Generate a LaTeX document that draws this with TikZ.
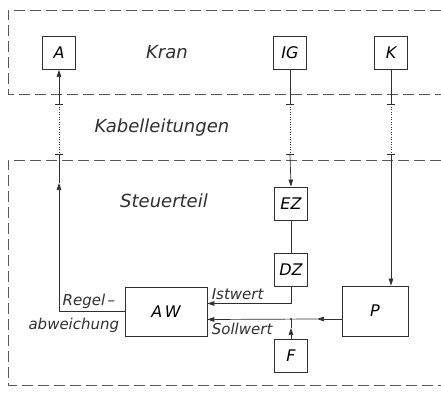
\documentclass[tikz,border=0pt]{standalone}
\usepackage{fontspec}
\setmainfont{DejaVu Sans}
\usetikzlibrary{arrows.meta, positioning, calc}
\definecolor{cink}{HTML}{303030}
\definecolor{cframe}{HTML}{585858}
\tikzset{
  every picture/.style={line width=0.7pt, draw=cink},
  blk/.style={draw=cink, line width=0.9pt, minimum width=#1, minimum height=33pt, inner sep=0pt, font=\fontsize{16}{18}\selectfont\itshape},
  blk/.default=33pt,
  arrow/.style={-{Triangle[length=7pt, width=4.6pt]}, draw=cink},
  cable/.style={draw=cink, dash pattern=on 1.2pt off 1.3pt},
  frame/.style={draw=cframe, line width=0.8pt, dash pattern=on 11pt off 5pt},
  area/.style={font=\fontsize{18}{20}\selectfont\itshape, text=cink},
  sig/.style={font=\fontsize{15}{17}\selectfont\itshape, text=cink, inner sep=1pt},
}

\begin{document}
\begin{tikzpicture}[x=1pt, y=-1pt]
  \useasboundingbox (0,0) rectangle (441,396);
  % Kran und Steuerteil
  \draw[frame] (441,10) -| (8,94) -- (441,94);
  \draw[frame] (441,160) -| (8,385) -- (441,385);
  \node[area] (kran) at (167,52) {Kran};
  \node[area] (kabel) at (162,128) {Kabelleitungen};
  \node[area] (steuer) at (164,201) {Steuerteil};

  \node[blk] (A) at (59,53) {A};
  \node[blk] (IG) at (290,53) {IG};
  \node[blk] (K) at (391,53) {K};
  \node[blk] (EZ) at (291,203.5) {EZ};
  \node[blk] (DZ) at (291,269.5) {DZ};
  \node[blk] (F) at (291,356) {F};
  \node[blk=82pt, minimum height=49pt] (AW) at (166,311.5) {A\,W};
  \node[blk=66pt, minimum height=50pt] (P) at (375,311) {P};

  % Trennstellen der Kabel
  \foreach \n/\x in {A/59, I/290, K/391} {
    \coordinate (t\n1) at (\x,104);
    \coordinate (t\n2) at (\x,154);
    \draw (t\n1) ++(-4,0) -- ++(8,0);
    \draw (t\n2) ++(-4,0) -- ++(8,0);
    \draw[cable] (t\n1) -- (t\n2);
  }
  \draw (IG.south) -- (tI1);
  \draw[arrow] (tI2) -- (EZ.north);
  \draw (K.south) -- (tK1);
  \draw[arrow] (tK2) -- (K |- P.north);
  \draw (EZ) -- (DZ);

  % Regelabweichung zum Antrieb
  \coordinate (mA) at (59,183);
  \draw[arrow] (AW.west) -| (mA);
  \draw (mA) -- (tA2);
  \draw[arrow] (tA1) -- (A.south);

  % Istwert / Sollwert
  \coordinate (ist) at ([yshift=8pt]AW.east);
  \coordinate (soll) at ([yshift=-8pt]AW.east);
  \coordinate (pout) at ([yshift=-8pt]P.west);
  \draw[arrow] (DZ.south) |- (ist);
  \coordinate (jn) at (F.north |- pout);
  \coordinate (mS) at ($(jn)+(26,0)$);
  \draw[arrow] (pout) -- (mS);
  \draw[arrow] (mS) -- (soll);
  \coordinate (mF) at ($(F.north)!0.55!(jn)$);
  \draw[arrow] (F.north) -- (mF);
  \draw (mF) -- (jn);
  \fill[cink] (jn) circle (1.2pt);

  \node[sig, anchor=south west] at ([xshift=3pt, yshift=2pt]ist) {Istwert};
  \node[sig, anchor=north west] at ([xshift=3pt, yshift=-2pt]soll) {Sollwert};
  \node[sig, anchor=south east] at ([xshift=-8pt, yshift=2pt]AW.west) {Regel\,–};
  \node[sig, anchor=north east] at ([xshift=-4pt, yshift=-5pt]AW.west) {abweichung};
\end{tikzpicture}
\end{document}
